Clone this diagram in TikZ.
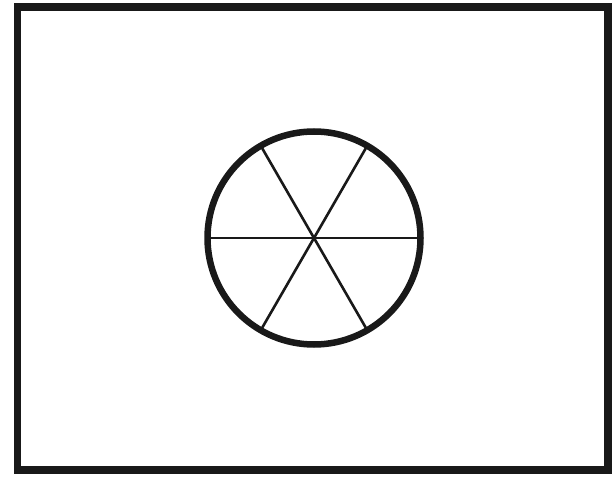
\documentclass[tikz,border=0pt]{standalone}
\usepackage{tikz}
\usetikzlibrary{calc}

\tikzset{
  frameline/.style={line width=7.5pt,black!90},
  rimline/.style={line width=6.5pt,black!90},
  spokeline/.style={line width=2.6pt,black!90}
}

\begin{document}
\begin{tikzpicture}[x=1pt,y=-1pt]
        \useasboundingbox (0,0) rectangle (613,486);
        \def\rr{106.5}
        % Outer frame
        \draw[frameline] (17.5,7) rectangle (608,470);
        % Wheel
        \coordinate (hub) at (314,238);
        \foreach \a in {0,60,120}
          \draw[spokeline] ($(hub)+(\a:\rr)$) -- ($(hub)+(\a+180:\rr)$);
        \draw[rimline] (hub) circle[radius=\rr];
      \end{tikzpicture}
\end{document}
